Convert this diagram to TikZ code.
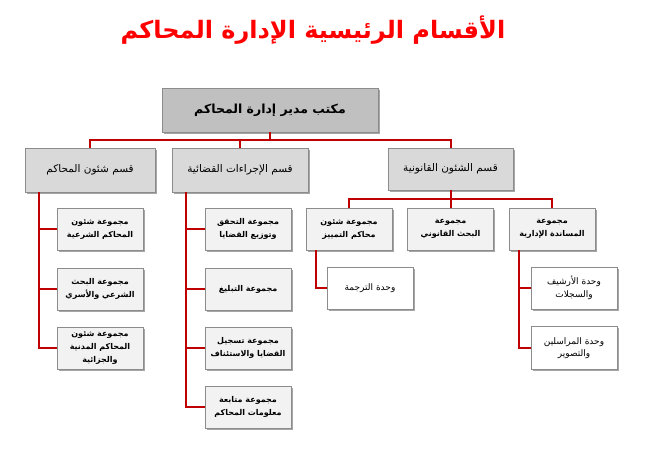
\documentclass[tikz,border=0pt]{standalone}
\usepackage{fontspec}
\usetikzlibrary{shadows}
\newfontfamily\arabicfont[Script=Arabic]{DejaVu Sans}
\TeXXeTstate=1
\newcommand{\ar}[1]{{\arabicfont\beginR #1\endR}}
\definecolor{conncol}{HTML}{C00000}
\definecolor{titlered}{HTML}{FF0000}
\definecolor{boxborder}{HTML}{8C8C8C}
\definecolor{topfill}{HTML}{C0C0C0}
\definecolor{deptfill}{HTML}{D9D9D9}
\definecolor{leaffill}{HTML}{F2F2F2}
\tikzset{
  box/.style={draw=boxborder, line width=0.8pt, align=center, inner sep=1pt,
    drop shadow={shadow xshift=1.5pt, shadow yshift=-1.5pt, opacity=0.35, fill=black}},
  topbox/.style={box, fill=topfill, minimum width=216pt, minimum height=44pt, font=\fontsize{12.5}{15}\selectfont\bfseries},
  deptbox/.style={box, fill=deptfill, minimum width=132pt, minimum height=44pt, font=\fontsize{10.5}{12}\selectfont},
  leafbox/.style={box, fill=leaffill, minimum width=86pt, minimum height=42pt, font=\fontsize{8}{13}\selectfont\bfseries},
  unitbox/.style={box, fill=white, minimum width=86pt, minimum height=42pt, font=\fontsize{9}{12.5}\selectfont},
  conn/.style={draw=conncol, line width=2pt}
}
\begin{document}
\begin{tikzpicture}[x=1pt,y=-1pt]
\useasboundingbox (0,0) rectangle (647,471);
% title
\node[text=titlered, font=\fontsize{24}{28}\selectfont\bfseries] (title) at (313,30) {\ar{الأقسام الرئيسية الإدارة المحاكم}};
% top
\node[topbox] (top) at (270,110) {\ar{مكتب مدير إدارة المحاكم}};
% departments
\node[deptbox, minimum width=130pt] (d1) at (90,170) {\ar{قسم شئون المحاكم}};
\node[deptbox, minimum width=136pt] (d2) at (240,170) {\ar{قسم الإجراءات القضائية}};
\node[deptbox, minimum width=125pt, minimum height=42pt] (d3) at (450.5,169) {\ar{قسم الشئون القانونية}};
% left leaves
\node[leafbox] (a1) at (100,229) {\ar{مجموعة شئون}\\\ar{المحاكم الشرعية}};
\node[leafbox] (a2) at (100,289) {\ar{مجموعة البحث}\\\ar{الشرعي والأسري}};
\node[leafbox] (a3) at (100,348) {\ar{مجموعة شئون}\\\ar{المحاكم المدنية}\\\ar{والجزائية}};
% middle leaves
\node[leafbox] (b1) at (248,229) {\ar{مجموعة التحقق}\\\ar{وتوزيع القضايا}};
\node[leafbox] (b2) at (248,289) {\ar{مجموعة التبليغ}};
\node[leafbox] (b3) at (248,348) {\ar{مجموعة تسجيل}\\\ar{القضايا والاستئناف}};
\node[leafbox] (b4) at (248,407) {\ar{مجموعة متابعة}\\\ar{معلومات المحاكم}};
% right groups
\node[leafbox] (c1) at (349,229) {\ar{مجموعة شئون}\\\ar{محاكم التمييز}};
\node[leafbox] (c2) at (450.5,229) {\ar{مجموعة}\\\ar{البحث القانوني}};
\node[leafbox] (c3) at (552,229) {\ar{مجموعة}\\\ar{المساندة الإدارية}};
% units
\node[unitbox] (u1) at (370,288) {\ar{وحدة الترجمة}};
\node[unitbox] (u2) at (574,288) {\ar{وحدة الأرشيف}\\\ar{والسجلات}};
\node[unitbox, minimum height=43pt] (u3) at (574,348) {\ar{وحدة المراسلين}\\\ar{والتصوير}};
% coordinates
\coordinate (bus) at (0,140);
\coordinate (busr) at (0,199);
\coordinate (spa) at (39,0);
\coordinate (spb) at (186,0);
\coordinate (spc) at (316,0);
\coordinate (spd) at (519,0);
% connectors: level 1
\draw[conn] (top.south) -- (top.south |- bus);
\draw[conn] (d1.north) -- (d1.north |- bus) -- (d3.north |- bus) -- (d3.north);
\draw[conn] (d2.north) -- (d2.north |- bus);
% left spine
\draw[conn] (d1.south -| spa) -- (spa |- a3.west) -- (a3.west);
\draw[conn] (spa |- a1.west) -- (a1.west);
\draw[conn] (spa |- a2.west) -- (a2.west);
% middle spine
\draw[conn] (d2.south -| spb) -- (spb |- b4.west) -- (b4.west);
\draw[conn] (spb |- b1.west) -- (b1.west);
\draw[conn] (spb |- b2.west) -- (b2.west);
\draw[conn] (spb |- b3.west) -- (b3.west);
% right
\draw[conn] (d3.south) -- (d3.south |- busr);
\draw[conn] (c1.north) -- (c1.north |- busr) -- (c3.north |- busr) -- (c3.north);
\draw[conn] (c2.north) -- (c2.north |- busr);
\draw[conn] (c1.south -| spc) -- (spc |- u1.west) -- (u1.west);
\draw[conn] (c3.south -| spd) -- (spd |- u3.west) -- (u3.west);
\draw[conn] (spd |- u2.west) -- (u2.west);
\end{tikzpicture}
\end{document}
